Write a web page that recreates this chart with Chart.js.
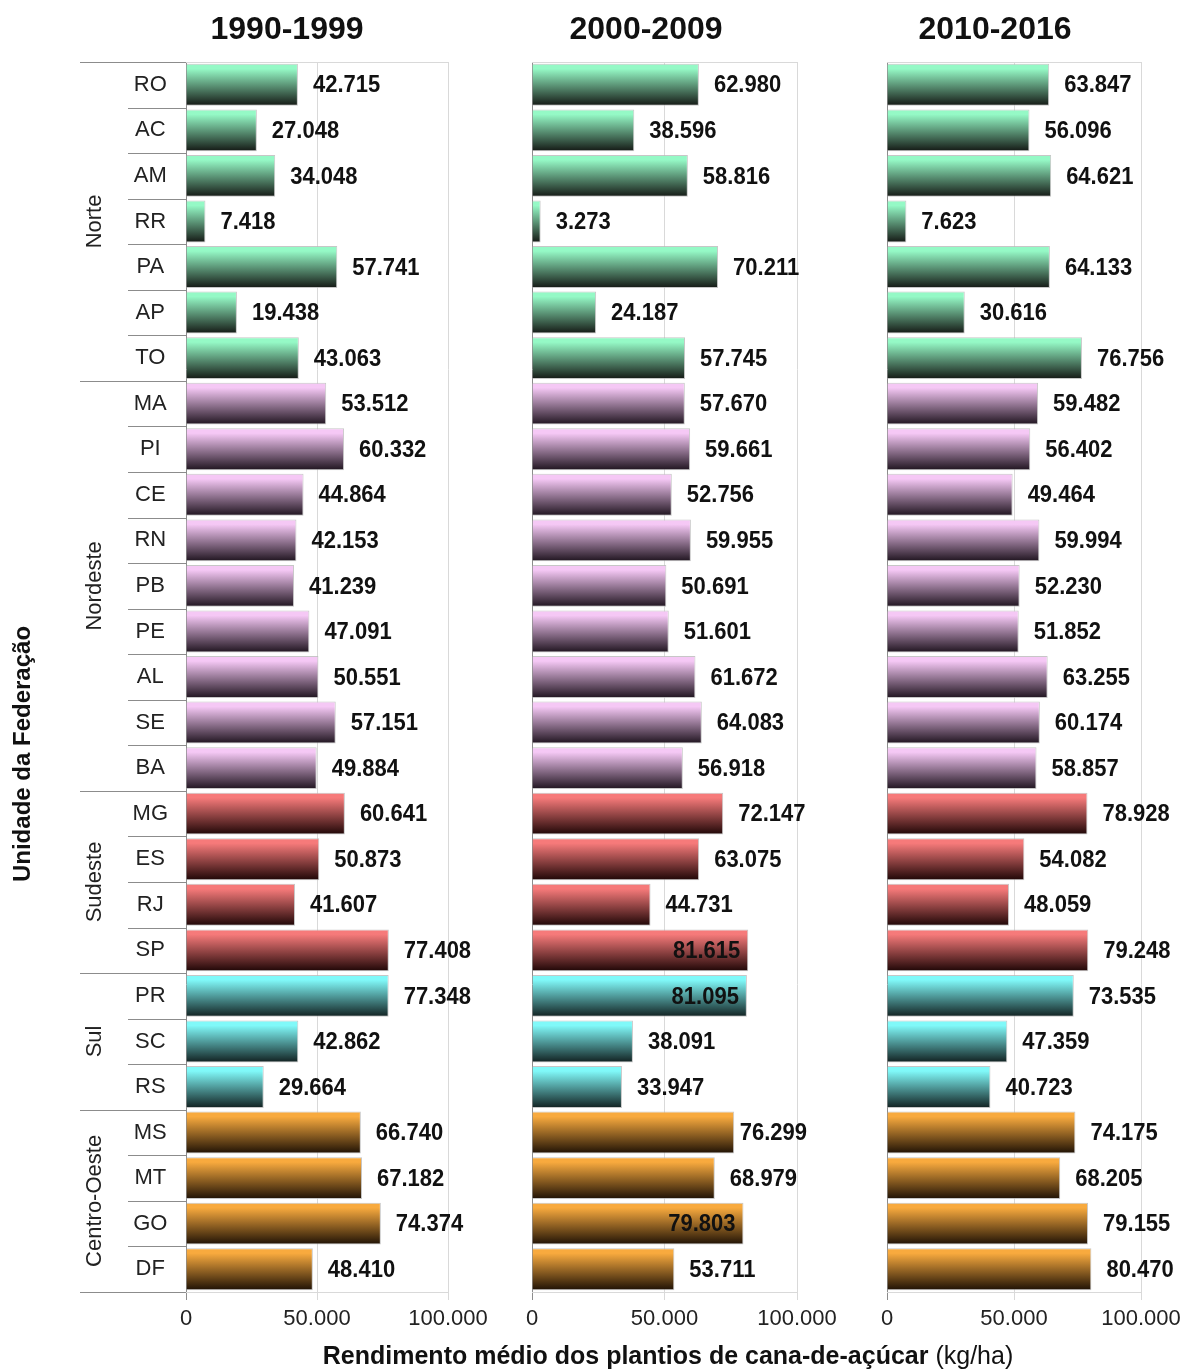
<!DOCTYPE html>
<html>
<head>
<meta charset="utf-8">
<script src="https://cdn.jsdelivr.net/npm/chart.js@4.4.1/dist/chart.umd.min.js"></script>
<style>
html, body { margin: 0; padding: 0; background: #fff; }
#wrap { position: relative; width: 1184px; height: 1370px; }
#wrap canvas { position: absolute; left: 0; top: 0; }
</style>
</head>
<body>
<div id="wrap">
  <canvas id="c1" width="1184" height="1370"></canvas>
  <canvas id="c2" width="1184" height="1370"></canvas>
  <canvas id="c3" width="1184" height="1370"></canvas>
</div>
<script>
// --- DATA ---
const states = ['RO','AC','AM','RR','PA','AP','TO',
                'MA','PI','CE','RN','PB','PE','AL','SE','BA',
                'MG','ES','RJ','SP',
                'PR','SC','RS',
                'MS','MT','GO','DF'];
const regions = ['Norte','Nordeste','Sudeste','Sul','Centro-Oeste'];
const regionCounts = [7, 9, 4, 3, 4];
const periods = ['1990-1999','2000-2009','2010-2016'];
const yield1990 = [42715, 27048, 34048, 7418, 57741, 19438, 43063,
                   53512, 60332, 44864, 42153, 41239, 47091, 50551, 57151, 49884,
                   60641, 50873, 41607, 77408,
                   77348, 42862, 29664,
                   66740, 67182, 74374, 48410];
const yield2000 = [62980, 38596, 58816, 3273, 70211, 24187, 57745,
                   57670, 59661, 52756, 59955, 50691, 51601, 61672, 64083, 56918,
                   72147, 63075, 44731, 81615,
                   81095, 38091, 33947,
                   76299, 68979, 79803, 53711];
const yield2010 = [63847, 56096, 64621, 7623, 64133, 30616, 76756,
                   59482, 56402, 49464, 59994, 52230, 51852, 63255, 60174, 58857,
                   78928, 54082, 48059, 79248,
                   73535, 47359, 40723,
                   74175, 68205, 79155, 80470];
const xTicks = [0, 50000, 100000];
const yTitle = 'Unidade da Federação';
const xTitleBold = 'Rendimento médio dos plantios de cana-de-açúcar';
const xTitleUnit = ' (kg/ha)';

const topColors = ['#95f9c6', '#f5c8f5', '#f67a7a', '#80f9f9', '#f8aa3e'];
const bottomColors = ['#141814', '#1f141f', '#1e0606', '#112020', '#1e1105'];

const FONT = "'Liberation Sans', Arial, sans-serif";
Chart.defaults.font.family = FONT;

// region index for each state
const stateRegion = [];
regionCounts.forEach((n, r) => { for (let i = 0; i < n; i++) stateRegion.push(r); });

function fmt(v) {
    return String(v).replace(/\B(?=(\d{3})+(?!\d))/g, '.');
}

function barFill(ctx) {
    const r = stateRegion[ctx.dataIndex];
    const y = ctx.chart.scales.y;
    if (!y || !isFinite(y.height) || y.height <= 0) return topColors[r];
    const c = y.getPixelForValue(ctx.dataIndex);
    const h = (y.height / states.length) * 0.92 / 2;
    const g = ctx.chart.ctx.createLinearGradient(0, c - h, 0, c + h);
    g.addColorStop(0, topColors[r]);
    g.addColorStop(0.12, topColors[r]);
    g.addColorStop(1, bottomColors[r]);
    return g;
}

// panel layout
const panels = [
    { id: 'c1', data: yield1990, left: 186, right: 448, limit: 520, titleX: 287, first: true },
    { id: 'c2', data: yield2000, left: 532, right: 797, limit: 807, titleX: 646, first: false },
    { id: 'c3', data: yield2010, left: 887, right: 1141, limit: 1180, titleX: 995, first: false }
];
const TOP = 62, BOTTOM = 1292, W = 1184, H = 1370;

const valueLabels = {
    id: 'valueLabels',
    afterDatasetsDraw(chart, args, opts) {
        const ctx = chart.ctx;
        const meta = chart.getDatasetMeta(0);
        ctx.save();
        ctx.font = 'bold 22px ' + FONT;
        ctx.fillStyle = '#111';
        ctx.textBaseline = 'middle';
        meta.data.forEach((bar, i) => {
            const txt = fmt(chart.data.datasets[0].data[i]);
            const w = ctx.measureText(txt).width;
            let x = bar.x + 15;
            if (x + w > opts.limit) x = opts.limit - w;
            if (x < bar.x - 2) x = bar.x - 8 - w;
            ctx.save();
            ctx.translate(x, bar.y + 1);
            ctx.scale(1, 1.1);
            ctx.textAlign = 'left';
            ctx.fillText(txt, 0, 0);
            ctx.restore();
        });
        ctx.restore();
    }
};

const frame = {
    id: 'frame',
    beforeDatasetsDraw(chart, args, opts) {
        const ctx = chart.ctx;
        const a = chart.chartArea;
        ctx.save();
        ctx.lineWidth = 1;
        ctx.strokeStyle = '#d9d9d9';
        ctx.beginPath();
        ctx.moveTo(a.left, Math.round(a.top) + 0.5);
        ctx.lineTo(a.right, Math.round(a.top) + 0.5);
        ctx.stroke();
        ctx.restore();
    },
    afterDraw(chart, args, opts) {
        const ctx = chart.ctx;
        ctx.save();
        ctx.font = 'bold 32px ' + FONT;
        ctx.fillStyle = '#111';
        ctx.textAlign = 'center';
        ctx.textBaseline = 'middle';
        ctx.fillText(opts.title, opts.titleX, 30);
        ctx.restore();
    }
};

const leftAxis = {
    id: 'leftAxis',
    afterDraw(chart) {
        const ctx = chart.ctx;
        const y = chart.scales.y;
        const a = chart.chartArea;
        ctx.save();
        ctx.lineWidth = 1;
        ctx.strokeStyle = '#8c8c8c';
        // separators between states and regions
        const bounds = [0];
        regionCounts.reduce((s, n) => { bounds.push(s + n); return s + n; }, 0);
        for (let i = 0; i <= states.length; i++) {
            const py = Math.round(y.getPixelForValue(i - 0.5)) + 0.5;
            const x0 = bounds.includes(i) ? 80 : 128;
            ctx.beginPath();
            ctx.moveTo(x0, py);
            ctx.lineTo(a.left, py);
            ctx.stroke();
        }
        // region names, rotated
        ctx.fillStyle = '#222';
        ctx.font = '22px ' + FONT;
        ctx.textAlign = 'center';
        ctx.textBaseline = 'middle';
        regions.forEach((name, r) => {
            const y0 = y.getPixelForValue(bounds[r] - 0.5);
            const y1 = y.getPixelForValue(bounds[r + 1] - 0.5);
            ctx.save();
            ctx.translate(95, (y0 + y1) / 2);
            ctx.rotate(-Math.PI / 2);
            ctx.fillText(name, 0, 0);
            ctx.restore();
        });
        // y axis title
        ctx.save();
        ctx.font = 'bold 24px ' + FONT;
        ctx.fillStyle = '#111';
        ctx.translate(23, 754);
        ctx.rotate(-Math.PI / 2);
        ctx.fillText(yTitle, 0, 0);
        ctx.restore();
        // x axis title (bold part + unit)
        ctx.font = 'bold 25px ' + FONT;
        const wb = ctx.measureText(xTitleBold).width;
        ctx.font = '25px ' + FONT;
        const wu = ctx.measureText(xTitleUnit).width;
        let x = 668 - (wb + wu) / 2;
        ctx.textAlign = 'left';
        ctx.fillStyle = '#111';
        ctx.font = 'bold 25px ' + FONT;
        ctx.fillText(xTitleBold, x, 1357);
        ctx.font = '25px ' + FONT;
        ctx.fillText(xTitleUnit, x + wb, 1357);
        ctx.restore();
    }
};

panels.forEach((p, k) => {
    const ctx = document.getElementById(p.id).getContext('2d');
    const plugins = [frame, valueLabels];
    if (p.first) plugins.push(leftAxis);
    new Chart(ctx, {
        type: 'bar',
        data: {
            labels: states,
            datasets: [{
                data: p.data,
                backgroundColor: barFill,
                borderColor: 'rgba(185,185,185,0.8)',
                borderWidth: 1,
                categoryPercentage: 1,
                barPercentage: 0.92
            }]
        },
        options: {
            indexAxis: 'y',
            responsive: false,
            animation: false,
            events: [],
            layout: {
                padding: {
                    left: p.first ? 128 : p.left,
                    right: W - p.right,
                    top: TOP,
                    bottom: 0
                }
            },
            plugins: {
                legend: { display: false },
                tooltip: { enabled: false },
                valueLabels: { limit: p.limit },
                frame: { title: periods[k], titleX: p.titleX }
            },
            scales: {
                x: {
                    min: 0,
                    max: 100000,
                    afterBuildTicks: s => { s.ticks = xTicks.map(v => ({ value: v })); },
                    ticks: {
                        font: { size: 22 },
                        color: '#222',
                        padding: 6,
                        maxRotation: 0,
                        autoSkip: false,
                        callback: v => fmt(v)
                    },
                    grid: {
                        color: c => (c.tick && c.tick.value === 0) ? '#8c8c8c' : '#d9d9d9',
                        tickLength: 8,
                        lineWidth: 1
                    },
                    border: { display: true, color: '#d9d9d9' },
                    afterFit: s => { s.height = H - BOTTOM; s.paddingLeft = 0; s.paddingRight = 0; }
                },
                y: {
                    display: p.first,
                    grid: { display: false, drawTicks: false },
                    border: { display: false },
                    ticks: {
                        font: { size: 22 },
                        color: '#222',
                        crossAlign: 'center',
                        padding: 18,
                        autoSkip: false
                    },
                    afterFit: s => { if (p.first) s.width = 58; s.paddingTop = 0; s.paddingBottom = 0; }
                }
            }
        },
        plugins: plugins
    });
});
</script>
</body>
</html>
